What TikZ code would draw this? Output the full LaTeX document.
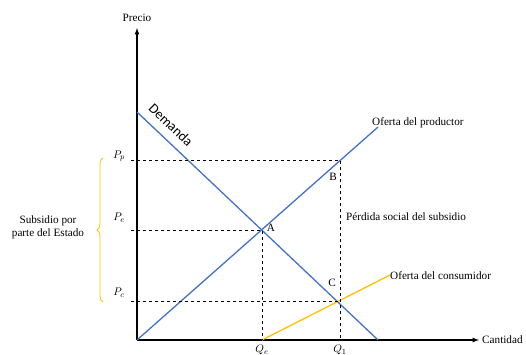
\documentclass[tikz,border=0pt]{standalone}
\usepackage{fontspec}
\setmainfont{Liberation Serif}
\newfontfamily\demfont{Carlito}
\usetikzlibrary{arrows,calc,decorations.pathreplacing}
\definecolor{lineblue}{RGB}{68,114,196}
\definecolor{lineorange}{RGB}{255,192,0}
\tikzstyle{axis}=[draw,line width=1.2pt,-latex]
\tikzstyle{curve}=[draw,line width=1.3pt,lineblue]
\tikzstyle{subsidycurve}=[draw,line width=1.3pt,lineorange]
\tikzstyle{guide}=[draw,dashed,line width=0.6pt]
\tikzstyle{lbl}=[font=\fontsize{11.2}{13}\selectfont,inner sep=1pt]

\begin{document}
\begin{tikzpicture}[x=1pt,y=-1pt]
    \useasboundingbox (0,0) rectangle (526,354);

    % axes
    \coordinate (o) at (137,340);
    \coordinate (ytop) at (137,28);
    \coordinate (xend) at (479,340);
    \path[axis] (o) -- (ytop);
    \path[axis] (o) -- (xend);
    \node[lbl] (precio) at (137,18) {Precio};
    \node[lbl,anchor=west] (cantidad) at (481,340) {Cantidad};

    % points on the curves
    \foreach \x/ \y/ \name in {137/112/dtop, 378/340/dbot, 378/127/stop,
                               262/230/A, 340/160/B, 340/301/C,
                               262/340/qe, 340/340/qone, 390/275/cend,
                               131/160/pp, 131/230/pe, 131/301/pc}
        \coordinate (\name) at (\x,\y);

    % curves
    \path[curve] (dtop) -- (dbot);
    \path[curve] (o) -- (stop);
    \path[subsidycurve] (qe) -- (cend);

    % guide lines
    \path[guide] (pp) -- (B) -- (qone);
    \path[guide] (pe) -- (A) -- (qe);
    \path[guide] (pc) -- (C);

    % labels
    \node[font=\demfont\fontsize{14}{16}\selectfont,rotate=-44,inner sep=0pt] (demanda) at (171,125) {Demanda};
    \node[lbl,anchor=west] (oprod) at (371,123) {Oferta del productor};
    \node[lbl,anchor=west] (ocons) at (389,276) {Oferta del consumidor};
    \node[lbl,anchor=west] (perdida) at (345,217) {Pérdida social del subsidio};
    \node[lbl] (lA) at (271,228) {A};
    \node[lbl] (lB) at (333,177) {B};
    \node[lbl] (lC) at (332,283) {C};
    \foreach \x/ \y/ \name/ \txt in {119/156/lpp/$P_p$, 119/218/lpe/$P_e$, 119/293/lpc/$P_c$}
        \node[lbl] (\name) at (\x,\y) {\txt};
    \node[lbl,anchor=north] (lqe) at (262,344) {$Q_e$};
    \node[lbl,anchor=north] (lq1) at (340,344) {$Q_1$};

    % subsidy brace
    \coordinate (bb) at (103,302);
    \coordinate (bt) at (103,158);
    \path[draw,lineorange,line width=0.8pt,decorate,decoration={brace,amplitude=6pt}] (bb) -- (bt);
    \node[lbl,align=center] (subsidio) at (48,227) {Subsidio por\\parte del Estado};

\end{tikzpicture}
\end{document}
